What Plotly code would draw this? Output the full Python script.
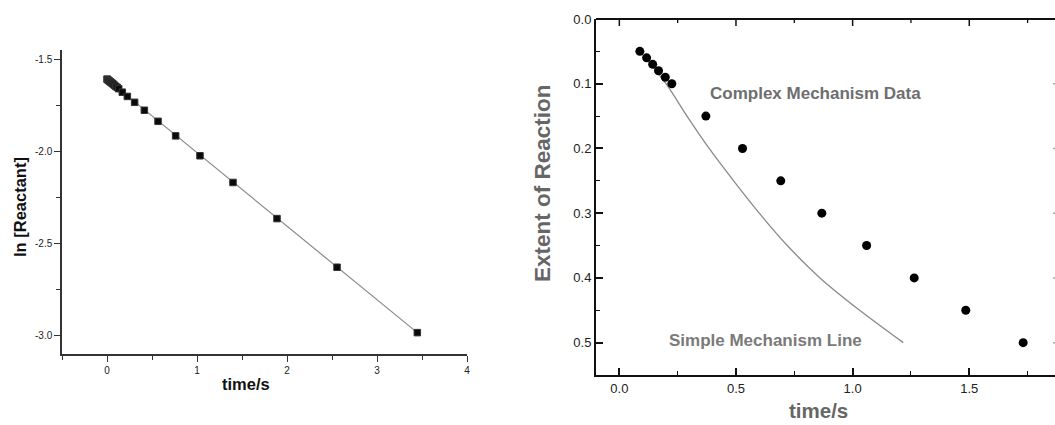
import plotly.graph_objects as go

# ---- Left panel data: ln[Reactant] vs time ----
left_t = [0.0, 0.008, 0.016, 0.025, 0.035, 0.045, 0.056, 0.068, 0.082, 0.097, 0.113, 0.13,
          0.17, 0.226, 0.307, 0.415, 0.567, 0.763, 1.033, 1.40, 1.889, 2.556, 3.448]
left_ln = [-1.609, -1.612, -1.616, -1.619, -1.623, -1.627, -1.631, -1.636, -1.642, -1.648,
           -1.654, -1.661, -1.680, -1.703, -1.735, -1.778, -1.838, -1.917, -2.025, -2.170,
           -2.366, -2.630, -2.985]
fit_t = [0.0, 3.448]
fit_ln = [-1.609, -2.985]

# ---- Right panel data: extent of reaction vs time ----
complex_t = [0.088, 0.117, 0.143, 0.168, 0.197, 0.225, 0.371, 0.528, 0.692, 0.868,
             1.060, 1.264, 1.485, 1.731]
complex_ext = [0.05, 0.06, 0.07, 0.08, 0.09, 0.10, 0.15, 0.20, 0.25, 0.30,
               0.35, 0.40, 0.45, 0.50]
simple_t = [0.088, 0.20, 0.29, 0.385, 0.49, 0.60, 0.72, 0.86, 1.03, 1.217]
simple_ext = [0.05, 0.10, 0.15, 0.20, 0.25, 0.30, 0.35, 0.40, 0.45, 0.50]

left_xticks = [0, 1, 2, 3, 4]
left_yticks = [-1.5, -2.0, -2.5, -3.0]
left_ytext = ["-1.5", "-2.0", "-2.5", "-3.0"]
right_xticks = [0.0, 0.5, 1.0, 1.5]
right_xtext = ["0.0", "0.5", "1.0", "1.5"]
right_xminor = [0.25, 0.75, 1.25, 1.75]
right_yticks = [0.0, 0.1, 0.2, 0.3, 0.4, 0.5]
right_ytext = ["0.0", "0.1", "0.2", "0.3", "0.4", "0.5"]

W, H = 1055, 425
FONT = "Liberation Sans, Arial, sans-serif"
RX = [-0.1, 1.8675]  # right panel x range

fig = go.Figure()

# Left panel
fig.add_trace(go.Scatter(x=fit_t, y=fit_ln, mode="lines",
                         line=dict(color="#8a8a8a", width=1.2),
                         xaxis="x", yaxis="y", showlegend=False))
fig.add_trace(go.Scatter(x=left_t, y=left_ln, mode="markers",
                         marker=dict(symbol="square", size=6.5, color="#0a0a0a",
                                     line=dict(color="#333333", width=1)),
                         xaxis="x", yaxis="y", showlegend=False))

# Right panel
fig.add_trace(go.Scatter(x=simple_t, y=simple_ext, mode="lines",
                         line=dict(color="#8a8a8a", width=1.3, shape="spline", smoothing=0.8),
                         xaxis="x2", yaxis="y2", showlegend=False))
fig.add_trace(go.Scatter(x=complex_t, y=complex_ext, mode="markers",
                         marker=dict(symbol="circle", size=9, color="#000000"),
                         xaxis="x2", yaxis="y2", showlegend=False))

lax_common = dict(showgrid=False, zeroline=False, showline=True, linecolor="#333333",
                  linewidth=1.5, ticks="outside", tickcolor="#333333", ticklen=6,
                  tickwidth=1.3, automargin=False,
                  tickfont=dict(family=FONT, size=10, color="#222222"))
rax_common = dict(showgrid=False, zeroline=False, showline=True, linecolor="#111111",
                  linewidth=2, ticks="inside", tickcolor="#111111", ticklen=7,
                  tickwidth=1.5, automargin=False,
                  tickfont=dict(family=FONT, size=13, color="#222222"))

fig.update_layout(
    template="none",
    width=W, height=H,
    margin=dict(l=0, r=0, t=0, b=0, pad=0, autoexpand=False),
    paper_bgcolor="white", plot_bgcolor="white",
    xaxis=dict(domain=[62 / W, 467 / W], range=[-0.5, 4], anchor="y",
               tickmode="array", tickvals=left_xticks,
               minor=dict(dtick=0.5, tick0=0, ticks="outside", ticklen=4,
                          tickcolor="#333333", tickwidth=1.2),
               **lax_common),
    yaxis=dict(domain=[1 - 354 / H, 1 - 50 / H], range=[-3.101, -1.451], anchor="x",
               tickmode="array", tickvals=left_yticks, ticktext=left_ytext,
               minor=dict(dtick=0.25, tick0=-1.5, ticks="outside", ticklen=4,
                          tickcolor="#333333", tickwidth=1.2),
               **lax_common),
    xaxis2=dict(domain=[596 / W, 1.0], range=RX, anchor="y2",
                tickmode="array", tickvals=right_xticks, ticktext=right_xtext,
                minor=dict(dtick=0.25, tick0=0, ticks="inside", ticklen=4,
                           tickcolor="#111111", tickwidth=1.3),
                **rax_common),
    yaxis2=dict(domain=[1 - 375 / H, 1 - 19 / H], range=[0.55, 0.0], anchor="x2",
                tickmode="array", tickvals=right_yticks, ticktext=right_ytext,
                minor=dict(dtick=0.05, tick0=0, ticks="inside", ticklen=4,
                           tickcolor="#111111", tickwidth=1.3),
                **rax_common),
)

# top frame of the right panel with inward ticks (axis decoration)
PH = 375 - 19  # right panel height in px
fig.add_shape(type="line", xref="x2 domain", yref="y2 domain",
              x0=0, x1=1, y0=1, y1=1, line=dict(color="#111111", width=2), layer="above")


def to_dom(v):
    return (v - RX[0]) / (RX[1] - RX[0])


for v in right_xticks:
    d = to_dom(v)
    fig.add_shape(type="line", xref="x2 domain", yref="y2 domain", x0=d, x1=d,
                  y0=1, y1=1 - 7 / PH, line=dict(color="#111111", width=1.5), layer="above")
for v in right_xminor:
    d = to_dom(v)
    fig.add_shape(type="line", xref="x2 domain", yref="y2 domain", x0=d, x1=d,
                  y0=1, y1=1 - 4 / PH, line=dict(color="#111111", width=1.3), layer="above")
# faint inward ticks of the (off-image) right frame
for v in right_yticks[1:]:
    fig.add_shape(type="line", xref="x2 domain", yref="y2", x0=1, x1=1 - 2 / 459,
                  y0=v, y1=v, line=dict(color="#aaaaaa", width=1.5), layer="above")

annos = [
    dict(text="<b>ln [Reactant]</b>", x=20 / W, y=1 - 207 / H, textangle=-90,
         font=dict(family=FONT, size=16.5, color="#111111")),
    dict(text="<b>time/s</b>", x=246 / W, y=1 - 384 / H,
         font=dict(family=FONT, size=16.5, color="#111111")),
    dict(text="<b>Extent of Reaction</b>", x=542 / W, y=1 - 183 / H, textangle=-90,
         font=dict(family=FONT, size=22.5, color="#666666")),
    dict(text="<b>time/s</b>", x=818 / W, y=1 - 410 / H,
         font=dict(family=FONT, size=20.5, color="#666666")),
    dict(text="<b>Complex Mechanism Data</b>", x=815.5 / W, y=1 - 93.5 / H,
         font=dict(family=FONT, size=17, color="#6e6e6e")),
    dict(text="<b>Simple Mechanism Line</b>", x=765.5 / W, y=1 - 340.5 / H,
         font=dict(family=FONT, size=17, color="#7a7a7a")),
]
for a in annos:
    fig.add_annotation(xref="paper", yref="paper", showarrow=False,
                       xanchor="center", yanchor="middle", **a)

fig.write_html("out.html")
